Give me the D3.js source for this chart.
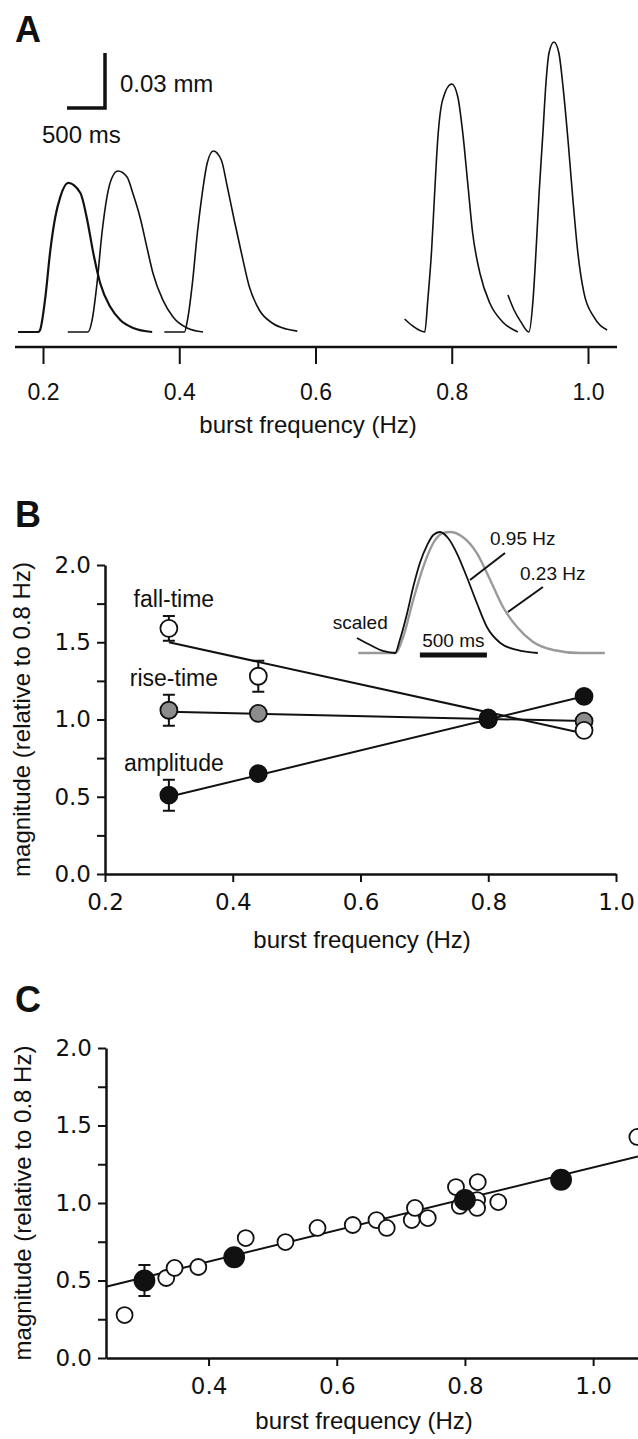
<!DOCTYPE html>
<html>
<head>
<meta charset="utf-8">
<script src="https://cdn.jsdelivr.net/npm/d3@7"></script>
<style>
  body { margin: 0; background: #fff; }
  text { fill: #111; }
</style>
</head>
<body>
<svg id="fig" width="638" height="1439"></svg>
<script>
// ---------- data ----------
// Panel A: five bursts, each placed at its burst frequency (Hz)
// samples: time from peak (ms) and amplitude (µm)
var burstFreq = [0.237, 0.31, 0.45, 0.80, 0.95];
var burstMs = [
    [-660, -395, -370, -305, -235, -170, -105, 0, 160, 250, 330, 420, 555, 685, 855, 1105],
    [-660, -395, -340, -275, -210, -145, -80, 0, 120, 195, 290, 380, 460, 590, 725, 910, 1120],
    [-645, -380, -340, -275, -210, -145, -80, 0, 105, 185, 275, 370, 475, 605, 775, 960, 1105],
    [-620, -515, -355, -315, -265, -225, -185, -120, 0, 80, 145, 210, 275, 370, 500, 670, 870],
    [-605, -525, -435, -330, -275, -235, -195, -145, -105, -65, 0, 65, 120, 185, 250, 315, 395, 525, 700]
];
var burstUm = [
    [0, 0, 1.1, 17.5, 44.7, 62.7, 73.6, 81.3, 75.8, 61.1, 43.1, 26.7, 13.6, 6.5, 2.2, 0],
    [0, 0, 6.5, 26.7, 54, 73.6, 84, 87.8, 84.5, 75.8, 62.7, 46.4, 32.2, 17.5, 8.2, 2.2, 0],
    [0, 0, 6.5, 26.7, 54, 75.8, 92.2, 98.7, 93.8, 79.1, 61.1, 43.1, 24.5, 12, 4.9, 1.6, 0.5],
    [7.1, 3.3, 0, 17.5, 44.7, 75.8, 104.7, 126.6, 135.3, 128.2, 108.6, 81.3, 54, 32.2, 15.8, 5.5, 0],
    [20.2, 12, 5.5, 0, 17.5, 44.7, 75.8, 108.6, 135.8, 152.2, 158.2, 152.2, 133.6, 104.7, 72, 43.1, 21.3, 8.2, 1.1]
];
var scaleBarUm = 30, scaleBarMs = 500;
var freqTicks = [0.2, 0.4, 0.6, 0.8, 1.0];

// Panel B inset: scaled bursts (time ms, normalised amplitude)
var fastMs = [-620, -520, -425, -335, -300, -245, -200, -150, -95, -50, 0, 60, 125, 200, 275, 350, 450, 575, 730];
var fastAmp = [0.124, 0.066, 0.017, 0, 0.107, 0.331, 0.545, 0.744, 0.893, 0.975, 1, 0.95, 0.826, 0.628, 0.413, 0.215, 0.083, 0.025, 0];
var slowMs = [-610, -335, -275, -200, -125, -50, 25, 75, 170, 275, 375, 470, 575, 695, 845, 1045, 1230];
var slowAmp = [0, 0, 0.132, 0.438, 0.711, 0.909, 0.992, 1, 0.959, 0.826, 0.603, 0.38, 0.215, 0.091, 0.025, 0, 0];

// Panel B: magnitude relative to 0.8 Hz
var freqB = [0.3, 0.44, 0.8, 0.95];
var fallTime = [1.59, 1.28, 1.0, 0.93];
var fallErr = [0.08, 0.10, 0, 0];
var riseTime = [1.06, 1.04, 1.0, 0.99];
var riseErr = [0.10, 0.02, 0, 0];
var amplitude = [0.51, 0.65, 1.01, 1.15];
var ampErr = [0.10, 0.03, 0, 0];
var fitEnds = [0.3, 0.95];
var fallFit = [1.50, 0.91];
var riseFit = [1.05, 0.99];
var ampFit = [0.50, 1.15];
var magTicks = [0, 0.25, 0.5, 0.75, 1.0, 1.25, 1.5, 1.75, 2.0];

// Panel C: individual preparations (open) and means (filled)
var openFreq = [0.269, 0.334, 0.347, 0.384, 0.458, 0.520, 0.570, 0.625, 0.662, 0.678, 0.717, 0.722, 0.742, 0.786, 0.792, 0.820, 0.819, 0.819, 0.852, 1.069];
var openMag = [0.277, 0.516, 0.581, 0.587, 0.774, 0.748, 0.839, 0.858, 0.890, 0.839, 0.890, 0.968, 0.903, 1.103, 0.981, 1.135, 1.019, 0.968, 1.006, 1.426];
var meanFreq = [0.3, 0.44, 0.8, 0.95];
var meanMag = [0.50, 0.65, 1.02, 1.15];
var meanErr = [0.10, 0, 0, 0];
var cFitFreq = [0.24, 1.07];
var cFitMag = [0.46, 1.30];

// ---------- drawing ----------
var svg = d3.select("#fig");
var sans = "'Liberation Sans', Arial, sans-serif";
var verd = "'DejaVu Sans', Verdana, sans-serif";

function panelLetter(txt, y) {
    svg.append("text").attr("x", 15).attr("y", y)
        .attr("font-family", sans).attr("font-weight", "bold")
        .attr("font-size", 36).text(txt);
}

function styleAxis(g, family) {
    g.attr("font-family", family).attr("font-size", 23);
    g.select(".domain").attr("stroke", "#111").attr("stroke-width", 2.5);
    g.selectAll(".tick line").attr("stroke", "#111").attr("stroke-width", 2);
    g.selectAll(".tick text").attr("fill", "#111");
}

// ===== Panel A =====
panelLetter("A", 42);
var xA = d3.scaleLinear().domain([0.2, 1.0]).range([43, 588]);
var tA = d3.scaleLinear().domain([0, 500]).range([0, 38]);
var aA = d3.scaleLinear().domain([0, 30]).range([332, 277]);

burstFreq.forEach(function(f, i) {
    var pts = burstMs[i].map(function(t, j) { return [t, burstUm[i][j]]; });
    var line = d3.line()
        .x(function(d) { return xA(f) + tA(d[0]); })
        .y(function(d) { return aA(d[1]); })
        .curve(d3.curveMonotoneX);
    svg.append("path")
        .attr("d", line(pts))
        .attr("fill", "none")
        .attr("stroke", "#111")
        .attr("stroke-width", i === 0 ? 2.2 : 1.6);
});

// scale bar
var sbX = 105, sbY = 108;
var sbH = aA(0) - aA(scaleBarUm), sbW = tA(scaleBarMs);
svg.append("path")
    .attr("d", "M" + sbX + "," + (sbY - sbH) + "V" + sbY + "H" + (sbX - sbW))
    .attr("fill", "none").attr("stroke", "#111").attr("stroke-width", 3.5);
svg.append("text").attr("x", 120).attr("y", 92)
    .attr("font-family", sans).attr("font-size", 24).text("0.03 mm");
svg.append("text").attr("x", 42).attr("y", 143)
    .attr("font-family", sans).attr("font-size", 24).text("500 ms");

var axA = svg.append("g").attr("transform", "translate(0,347)")
    .call(d3.axisBottom(xA).tickValues(freqTicks).tickSize(17).tickSizeOuter(0)
        .tickPadding(20).tickFormat(d3.format(".1f")));
styleAxis(axA, sans);
axA.select(".domain").attr("d", "M15,0H617");
svg.append("text").attr("x", 308).attr("y", 433).attr("text-anchor", "middle")
    .attr("font-family", sans).attr("font-size", 24).text("burst frequency (Hz)");

// ===== Panel B =====
panelLetter("B", 527);
var xB = d3.scaleLinear().domain([0.2, 1.0]).range([105, 616]);
var yB = d3.scaleLinear().domain([0, 2]).range([874, 565]);

function magAxis(y, x0) {
    return d3.axisLeft(y).tickValues(magTicks).tickSize(8).tickSizeOuter(0).tickPadding(6)
        .tickFormat(function(d) { return (d * 2) % 1 === 0 ? d3.format(".1f")(d) : ""; });
}

var axBy = svg.append("g").attr("transform", "translate(105,0)").call(magAxis(yB));
styleAxis(axBy, verd);
var axBx = svg.append("g").attr("transform", "translate(0,874)")
    .call(d3.axisBottom(xB).tickValues(freqTicks).tickSize(8).tickSizeOuter(0)
        .tickPadding(12).tickFormat(d3.format(".1f")));
styleAxis(axBx, verd);

svg.append("text").attr("x", 362).attr("y", 948).attr("text-anchor", "middle")
    .attr("font-family", sans).attr("font-size", 24).text("burst frequency (Hz)");
svg.append("text").attr("transform", "translate(30," + yB(1) + ") rotate(-90)")
    .attr("text-anchor", "middle").attr("font-family", sans).attr("font-size", 24)
    .text("magnitude (relative to 0.8 Hz)");

// fit lines
[fallFit, riseFit, ampFit].forEach(function(fit) {
    svg.append("line")
        .attr("x1", xB(fitEnds[0])).attr("y1", yB(fit[0]))
        .attr("x2", xB(fitEnds[1])).attr("y2", yB(fit[1]))
        .attr("stroke", "#111").attr("stroke-width", 2);
});

function errBars(xs, ys, es, x, y) {
    xs.forEach(function(f, i) {
        if (!es[i]) return;
        var cx = x(f), top = y(ys[i] + es[i]), bot = y(ys[i] - es[i]);
        svg.append("path")
            .attr("d", "M" + cx + "," + top + "V" + bot +
                "M" + (cx - 6) + "," + top + "H" + (cx + 6) +
                "M" + (cx - 6) + "," + bot + "H" + (cx + 6))
            .attr("fill", "none").attr("stroke", "#111").attr("stroke-width", 2);
    });
}
function dots(xs, ys, x, y, fill, r) {
    svg.append("g").selectAll("circle").data(xs).enter().append("circle")
        .attr("cx", function(d) { return x(d); })
        .attr("cy", function(d, i) { return y(ys[i]); })
        .attr("r", r)
        .attr("fill", fill).attr("stroke", "#111").attr("stroke-width", 1.8);
}

var seriesB = [
    { name: "amplitude", v: amplitude, e: ampErr, fill: "#111" },
    { name: "rise-time", v: riseTime, e: riseErr, fill: "#8c8c8c" },
    { name: "fall-time", v: fallTime, e: fallErr, fill: "#fff" }
];
seriesB.forEach(function(s) { errBars(freqB, s.v, s.e, xB, yB); });
dots(freqB.slice(3), riseTime.slice(3), xB, yB, "#8c8c8c", 8.5);
dots(freqB.slice(3), fallTime.slice(3), xB, yB, "#fff", 8.5);
dots(freqB.slice(0, 3), riseTime.slice(0, 3), xB, yB, "#8c8c8c", 8.5);
dots(freqB.slice(0, 3), fallTime.slice(0, 3), xB, yB, "#fff", 8.5);
dots(freqB, amplitude, xB, yB, "#111", 8.5);

seriesB.forEach(function(s) {
    svg.append("text")
        .attr("x", xB(freqB[0]) + 5).attr("y", yB(s.v[0] + s.e[0]) - 9)
        .attr("text-anchor", "middle").attr("font-family", sans).attr("font-size", 23)
        .text(s.name);
});

// inset
var tIn = d3.scaleLinear().domain([0, 500]).range([440, 507]);
var aIn = d3.scaleLinear().domain([0, 1]).range([653, 532]);
var inLine = d3.line()
    .x(function(d) { return tIn(d[0]); })
    .y(function(d) { return aIn(d[1]); })
    .curve(d3.curveMonotoneX);
svg.append("path")
    .attr("d", inLine(slowMs.map(function(t, j) { return [t, slowAmp[j]]; })))
    .attr("fill", "none").attr("stroke", "#9a9a9a").attr("stroke-width", 2.4);
svg.append("path")
    .attr("d", inLine(fastMs.map(function(t, j) { return [t, fastAmp[j]]; })))
    .attr("fill", "none").attr("stroke", "#111").attr("stroke-width", 1.8);
svg.append("line")
    .attr("x1", tIn(-150)).attr("x2", tIn(350)).attr("y1", 655).attr("y2", 655)
    .attr("stroke", "#111").attr("stroke-width", 5);
svg.append("text").attr("x", tIn(100)).attr("y", 647).attr("text-anchor", "middle")
    .attr("font-family", sans).attr("font-size", 19).text("500 ms");
svg.append("text").attr("x", tIn(-800)).attr("y", aIn(0.2))
    .attr("font-family", sans).attr("font-size", 19).text("scaled");
svg.append("text").attr("x", tIn(373)).attr("y", aIn(0.89))
    .attr("font-family", sans).attr("font-size", 19).text("0.95 Hz");
svg.append("text").attr("x", tIn(597)).attr("y", aIn(0.6))
    .attr("font-family", sans).attr("font-size", 19).text("0.23 Hz");
[[485, 0.826, 224, 0.603], [768, 0.545, 507, 0.339]].forEach(function(l) {
    svg.append("line")
        .attr("x1", tIn(l[0])).attr("y1", aIn(l[1]))
        .attr("x2", tIn(l[2])).attr("y2", aIn(l[3]))
        .attr("stroke", "#111").attr("stroke-width", 2);
});

// ===== Panel C =====
panelLetter("C", 1012);
var xC = d3.scaleLinear().domain([0.24, 1.07]).range([106, 638]);
var yC = d3.scaleLinear().domain([0, 2]).range([1358, 1048]);

var axCy = svg.append("g").attr("transform", "translate(106,0)").call(magAxis(yC));
styleAxis(axCy, verd);
var axCx = svg.append("g").attr("transform", "translate(0,1358)")
    .call(d3.axisBottom(xC).tickValues([0.4, 0.6, 0.8, 1.0]).tickSize(8).tickSizeOuter(0)
        .tickPadding(12).tickFormat(d3.format(".1f")));
styleAxis(axCx, verd);

svg.append("text").attr("x", 364).attr("y", 1429).attr("text-anchor", "middle")
    .attr("font-family", sans).attr("font-size", 24).text("burst frequency (Hz)");
svg.append("text").attr("transform", "translate(31," + yC(1) + ") rotate(-90)")
    .attr("text-anchor", "middle").attr("font-family", sans).attr("font-size", 24)
    .text("magnitude (relative to 0.8 Hz)");

svg.append("line")
    .attr("x1", xC(cFitFreq[0])).attr("y1", yC(cFitMag[0]))
    .attr("x2", xC(cFitFreq[1])).attr("y2", yC(cFitMag[1]))
    .attr("stroke", "#111").attr("stroke-width", 2);
dots(openFreq, openMag, xC, yC, "#fff", 8);
errBars(meanFreq, meanMag, meanErr, xC, yC);
dots(meanFreq, meanMag, xC, yC, "#111", 10);
</script>
</body>
</html>
